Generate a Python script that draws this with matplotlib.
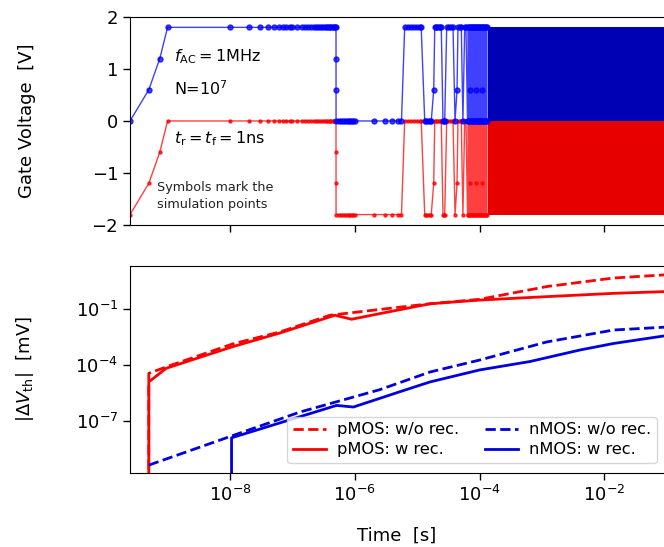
import matplotlib
matplotlib.use("Agg")
import matplotlib.pyplot as plt
from matplotlib.ticker import NullLocator

plt.rcParams["font.family"] = ["DejaVu Sans"]
plt.rcParams["font.size"] = 13

# gate waveform of the nMOS (simulation points), time in ns, voltage in V
GATE_T_NS = [
    0.25, 0.5, 0.75, 1.0,
    10, 20, 30, 40, 50, 60, 70, 80, 90, 100,
    120, 140, 160, 180, 200, 220, 240, 260, 280, 300,
    320, 340, 360, 380, 400, 420, 440, 460, 480,
    500, 500.25, 500.5, 500.75,
    550, 600, 650, 700, 750, 800, 850, 900, 950, 1000,
    2000, 3000, 4000, 5000, 5600,
    6300, 7000, 8000, 9000, 10000, 11000, 11600,
    13200, 14000, 15000, 16000, 16800,
    18400, 19100, 20000, 21000, 22000, 23000, 24300,
    25900, 26800, 27600,
    29700, 32000, 35000, 37500,
    40400, 43500, 45000, 48000, 50900,
    54000, 57700, 60500,
    64000, 65200, 65201, 67600, 67601,
    70200, 70900, 71000, 72800, 72801,
    75500, 75501, 78300, 78301,
    81300, 81301, 84300, 84301,
    87500, 88400, 88500, 90800, 90801,
    94200, 94201, 97700, 97701,
    101400, 101401, 105200, 105201,
    109000, 110000, 110100, 113000, 113001,
    118000, 118001, 122000, 122001,
    127000, 127001, 131000, 131001,
]
GATE_V = [
    0.0, 0.6, 1.2, 1.8,
    1.8, 1.8, 1.8, 1.8, 1.8, 1.8, 1.8, 1.8, 1.8, 1.8,
    1.8, 1.8, 1.8, 1.8, 1.8, 1.8, 1.8, 1.8, 1.8, 1.8,
    1.8, 1.8, 1.8, 1.8, 1.8, 1.8, 1.8, 1.8, 1.8,
    1.8, 1.2, 0.6, 0.0,
    0.0, 0.0, 0.0, 0.0, 0.0, 0.0, 0.0, 0.0, 0.0, 0.0,
    0.0, 0.0, 0.0, 0.0, 0.0,
    1.8, 1.8, 1.8, 1.8, 1.8, 1.8, 1.8,
    0.0, 0.0, 0.0, 0.0, 0.0,
    0.6, 1.8, 1.8, 1.8, 1.8, 1.8, 1.8,
    0.0, 0.0, 0.0,
    1.8, 1.8, 1.8, 1.8,
    0.0, 0.6, 1.8, 1.8, 1.8,
    0.0, 1.8, 1.8,
    0.0, 0.0, 1.8, 1.8, 0.0,
    0.0, 0.6, 1.8, 1.8, 0.0,
    0.0, 1.8, 1.8, 0.0,
    0.0, 1.8, 1.8, 0.0,
    0.0, 0.6, 1.8, 1.8, 0.0,
    0.0, 1.8, 1.8, 0.0,
    0.0, 1.8, 1.8, 0.0,
    0.0, 0.6, 1.8, 1.8, 0.0,
    0.0, 1.8, 1.8, 0.0,
    0.0, 1.8, 1.8, 0.0,
]
VDD = 1.8
DENSE_START = 1.34e-4   # from here the cycles are too dense to resolve
T_END = 10.0

# |dVth| in mV
PW_T = [5e-10, 5e-10, 9.7e-10, 1.1e-8, 6.3e-8, 4.0e-7, 2.5e-6, 1.6e-5, 1.0e-4, 1.2e-3, 1.4e-2, 8.7e-2, 1.0, 10.0]
PW_V = [1e-12, 3.5e-5, 7.9e-5, 1.32e-3, 5.8e-3, 4.6e-2, 9.4e-2, 0.19, 0.33, 1.6, 4.6, 6.7, 8.0, 9.0]

PR_T = [5e-10, 5e-10, 9.5e-10, 1.1e-8, 6.3e-8, 4.8e-7, 8.9e-7, 2.5e-6, 1.6e-5, 1.0e-4, 1.2e-3, 1.4e-2, 8.7e-2, 1.0, 10.0]
PR_V = [1e-12, 1.2e-5, 6.5e-5, 9.4e-4, 5.1e-3, 4.6e-2, 2.8e-2, 5.6e-2, 0.19, 0.30, 0.46, 0.69, 0.85, 1.0, 1.1]

NW_T = [5e-10, 1.0e-8, 1.32e-7, 2.5e-6, 1.6e-5, 1.0e-4, 1.2e-3, 1.4e-2, 8.7e-2, 1.0, 10.0]
NW_V = [4.1e-10, 1.4e-8, 2.9e-7, 4.6e-6, 4.1e-5, 1.8e-4, 1.7e-3, 7.4e-3, 1.04e-2, 1.2e-2, 1.3e-2]

NR_T = [1.06e-8, 1.06e-8, 5.1e-7, 9.5e-7, 5.3e-6, 1.6e-5, 1.0e-4, 6.4e-4, 4.1e-3, 1.4e-2, 8.7e-2, 1.0, 10.0]
NR_V = [1e-12, 1.2e-8, 6.6e-7, 5.4e-7, 3.6e-6, 1.2e-5, 5.3e-5, 1.5e-4, 6.3e-4, 1.4e-3, 3.5e-3, 6.0e-3, 7.0e-3]

XTICKS = [1e-8, 1e-6, 1e-4, 1e-2]
YTICKS_TOP = [-2, -1, 0, 1, 2]
YTICKS_BOT = [1e-7, 1e-4, 1e-1]


def main():
    fig = plt.figure(figsize=(6.64, 5.47), dpi=100)
    ax1 = fig.add_axes([0.1958, 0.5887, 0.9964, 0.3803])
    ax2 = fig.add_axes([0.1958, 0.1358, 0.9964, 0.3784], sharex=ax1)

    t_gate = [t * 1e-9 for t in GATE_T_NS]
    v_p = [v - VDD for v in GATE_V]

    ax1.plot(t_gate, v_p, color="red", lw=1.0, alpha=0.75, marker="o", ms=2.2)
    ax1.plot(t_gate, GATE_V, color="blue", lw=1.0, alpha=0.75, marker="o", ms=3.6)
    ax1.fill_between([DENSE_START, T_END], -VDD, 0, color="#e60000", lw=0)
    ax1.fill_between([DENSE_START, T_END], 0, VDD, color="#0000b4", lw=0)

    ax1.set_xscale("log")
    ax1.set_xlim(2.5e-10, T_END)
    ax1.set_ylim(-2, 2)
    ax1.set_yticks(YTICKS_TOP)
    ax1.set_yticklabels(["\u22122", "\u22121", "0", "1", "2"])
    ax1.tick_params(labelbottom=False)
    ax1.set_ylabel("Gate Voltage  [V]")
    ax1.yaxis.set_label_coords(-0.142, 0.5)

    ax1.text(0.0665, 0.808, r"$f_{\rm AC}=1$MHz", transform=ax1.transAxes, fontsize=11.5, va="center")
    ax1.text(0.0665, 0.654, r"N=$10^7$", transform=ax1.transAxes, fontsize=11.5, va="center")
    ax1.text(0.0665, 0.413, r"$t_{\rm r}=t_{\rm f}=1$ns", transform=ax1.transAxes, fontsize=11.5, va="center")
    ax1.text(0.041, 0.139, "Symbols mark the\nsimulation points", transform=ax1.transAxes,
             fontsize=9.2, va="center", linespacing=1.45, color="#222222")

    ax2.plot(PW_T, PW_V, color="red", lw=2, ls="--", label="pMOS: w/o rec.")
    ax2.plot(PR_T, PR_V, color="red", lw=2, label="pMOS: w rec.")
    ax2.plot(NW_T, NW_V, color="#0000dd", lw=2, ls="--", label="nMOS: w/o rec.")
    ax2.plot(NR_T, NR_V, color="#0000dd", lw=2, label="nMOS: w rec.")
    ax2.set_yscale("log")
    ax2.set_ylim(1.6e-10, 21)
    ax2.set_yticks(YTICKS_BOT)
    ax2.yaxis.set_minor_locator(NullLocator())
    ax2.set_xticks(XTICKS)
    ax2.xaxis.set_minor_locator(NullLocator())
    ax2.set_ylabel(r"$|\Delta V_{\rm th}|$  [mV]")
    ax2.yaxis.set_label_coords(-0.142, 0.5)
    ax2.set_xlabel("Time  [s]")
    ax2.xaxis.set_label_coords(0.4036, -0.262)

    for ax in (ax1, ax2):
        ax.tick_params(length=5, width=1)

    ax2.legend(ncol=2, fontsize=11.7, loc="lower right", bbox_to_anchor=(0.989, 0.1536),
               bbox_transform=fig.transFigure, borderaxespad=0, columnspacing=1.6,
               handletextpad=0.7, borderpad=0.35, labelspacing=0.3)

    fig.savefig("out.png", dpi=100)
    plt.close(fig)


if __name__ == "__main__":
    main()
